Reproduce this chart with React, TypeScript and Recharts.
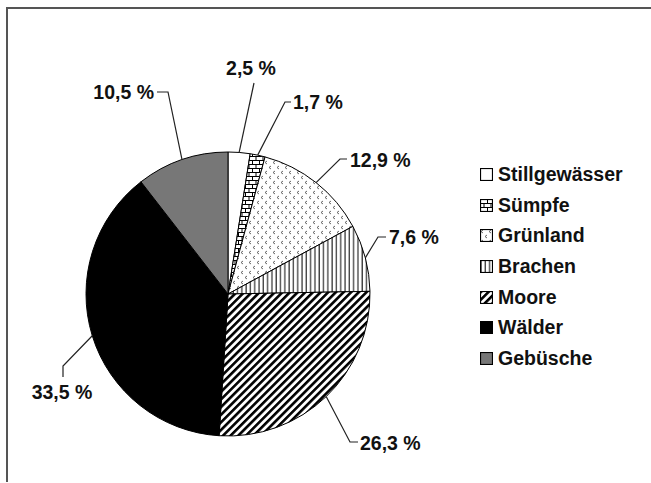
import React from 'react'
import { PieChart, Pie, Cell, Legend } from 'recharts'

// categories in clockwise order, starting at 12 o'clock
const categories = ['Stillgewässer', 'Sümpfe', 'Grünland', 'Brachen', 'Moore', 'Wälder', 'Gebüsche']
// slice sizes (Wälder is drawn larger than its printed label)
const shares = [2.5, 1.7, 12.9, 7.6, 26.3, 38.5, 10.5]
const shareLabels = ['2,5 %', '1,7 %', '12,9 %', '7,6 %', '26,3 %', '33,5 %', '10,5 %']

const fills = ['#ffffff', 'url(#bricks)', 'url(#dots)', 'url(#vlines)', 'url(#diag)', '#000000', '#777777']

const data = categories.map((name, i) => ({ name, value: shares[i], label: shareLabels[i] }))

// leader line bend points and text spot, relative to pie centre
type LabelLayout = { pts: [number, number][], tx: number, ty: number, anchor: 'start' | 'middle' | 'end' }
const labelLayout: LabelLayout[] = [
  { pts: [[26, -211]], tx: 23, ty: -226, anchor: 'middle' },
  { pts: [[57, -192], [63, -192]], tx: 65, ty: -192, anchor: 'start' },
  { pts: [[112, -135], [119, -135]], tx: 122, ty: -134, anchor: 'start' },
  { pts: [[150, -57], [158, -57]], tx: 161, ty: -57, anchor: 'start' },
  { pts: [[122, 148], [130, 148]], tx: 132, ty: 149, anchor: 'start' },
  { pts: [[-165, 72], [-165, 83]], tx: -166, ty: 98, anchor: 'middle' },
  { pts: [[-60, -202], [-71, -202]], tx: -74, ty: -202, anchor: 'end' },
]

const RAD = Math.PI / 180
const font = '"Liberation Sans", Arial, sans-serif'

const renderLabel = (props: any) => {
  const { cx, cy, midAngle, outerRadius, index } = props
  const lay = labelLayout[index]
  const ex = cx + outerRadius * Math.cos(-midAngle * RAD)
  const ey = cy + outerRadius * Math.sin(-midAngle * RAD)
  const points = [[ex, ey], ...lay.pts.map(([x, y]) => [cx + x, cy + y])].map((p) => p.join(',')).join(' ')
  return (
    <g key={`lbl-${index}`}>
      <polyline points={points} fill="none" stroke="#222" strokeWidth={1.2} />
      <text x={cx + lay.tx} y={cy + lay.ty} textAnchor={lay.anchor} dominantBaseline="central"
        fontFamily={font} fontWeight="bold" fontSize={19.5} fill="#111">
        {data[index].label}
      </text>
    </g>
  )
}

const renderLegend = (props: any) => {
  const payload = [...(props.payload || [])].sort(
    (a: any, b: any) => categories.indexOf(a.value) - categories.indexOf(b.value)
  )
  return (
    <div style={{ fontFamily: font, fontWeight: 'bold', fontSize: 19.5, color: '#111' }}>
      {payload.map((entry: any) => {
        const i = categories.indexOf(entry.value)
        return (
          <div key={`leg-${i}`} style={{ display: 'flex', alignItems: 'center', height: 30.7 }}>
            <svg width={13} height={13} style={{ marginRight: 5 }}>
              <rect x={0.5} y={0.5} width={12} height={12} fill={fills[i]} stroke="#000" strokeWidth={1.2} />
            </svg>
            <span>{entry.value}</span>
          </div>
        )
      })}
    </div>
  )
}

export default function App() {
  return (
    <div style={{ position: 'absolute', left: 0, top: 0, width: 651, height: 483, background: '#fff' }}>
      <svg width={0} height={0} style={{ position: 'absolute' }}>
        <defs>
          <pattern id="bricks" width={7} height={8} patternUnits="userSpaceOnUse">
            <rect width={7} height={8} fill="#fff" />
            <path d="M0 0.5 H7 M0 4.5 H7 M0.5 0 V4.5 M4 4.5 V8" stroke="#000" strokeWidth={1} />
          </pattern>
          <pattern id="dots" width={8} height={10} patternUnits="userSpaceOnUse">
            <rect width={8} height={10} fill="#fff" />
            <path d="M3 1 L1 2.5 L3 4 M7 6 L5 7.5 L7 9" stroke="#555" strokeWidth={0.9} fill="none" />
          </pattern>
          <pattern id="vlines" width={4.3} height={4} patternUnits="userSpaceOnUse">
            <rect width={4.3} height={4} fill="#fff" />
            <path d="M1 0 V4" stroke="#000" strokeWidth={1} />
          </pattern>
          <pattern id="diag" width={5.4} height={10} patternUnits="userSpaceOnUse" patternTransform="rotate(45)">
            <rect width={5.4} height={10} fill="#fff" />
            <rect width={2.6} height={10} fill="#000" />
          </pattern>
        </defs>
      </svg>
      <div style={{ position: 'absolute', left: 6, top: 7, width: 645, height: 473, borderLeft: '2px solid #555', borderTop: '2px solid #555' }} />
      <div style={{ position: 'absolute', left: 0, top: 0 }}>
        <PieChart width={651} height={483} margin={{ top: 0, right: 0, bottom: 0, left: 0 }}>
          <Pie
            data={data}
            dataKey="value"
            nameKey="name"
            cx={228}
            cy={294}
            outerRadius={142}
            startAngle={90}
            endAngle={-270}
            stroke="#000"
            strokeWidth={1}
            label={renderLabel}
            labelLine={false}
            isAnimationActive={false}
          >
            {data.map((entry, index) => (
              <Cell key={`cell-${index}`} fill={fills[index]} />
            ))}
          </Pie>
          <Legend
            layout="vertical"
            content={renderLegend}
            wrapperStyle={{ position: 'absolute', left: 480, top: 159, width: 170 }}
          />
        </PieChart>
      </div>
    </div>
  )
}
